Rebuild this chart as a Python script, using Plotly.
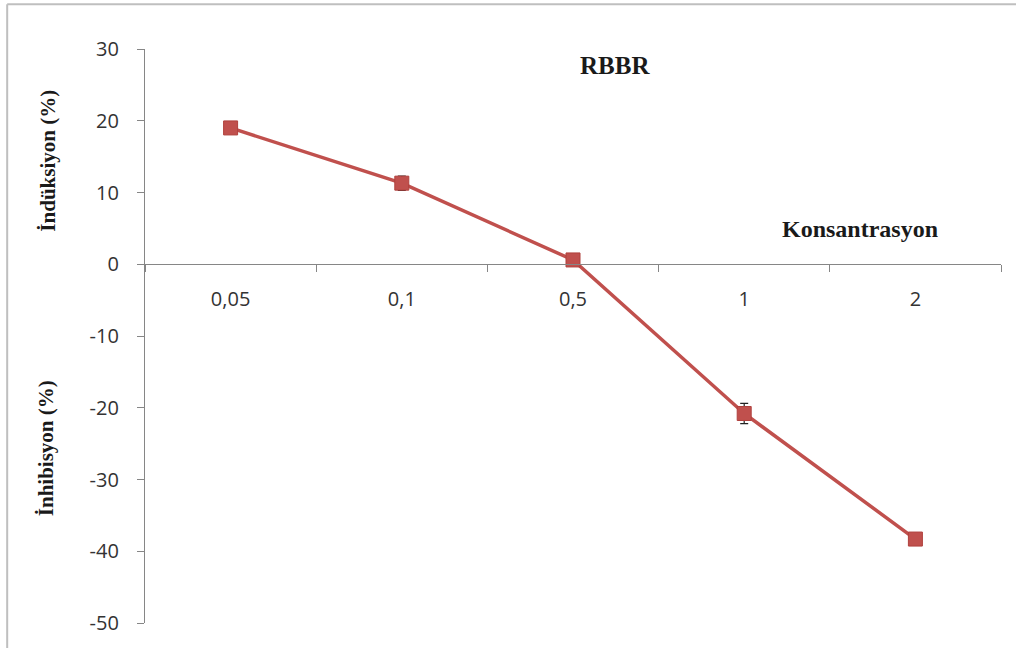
import plotly.graph_objects as go

# Concentration categories and measured response (% induction / inhibition)
concentrations = ["0,05", "0,1", "0,5", "1", "2"]
response = [19.0, 11.3, 0.6, -20.8, -38.3]
response_err = [0.5, 1.0, 0.5, 1.4, 0.5]

y_ticks = [30, 20, 10, 0, -10, -20, -30, -40, -50]
y_tick_labels = ["30", "20", "10", "0", "-10", "-20", "-30", "-40", "-50"]

RED = "#C0504D"
AXIS = "#868686"
TICK_FONT = dict(family="Open Sans, Liberation Sans, sans-serif", size=20, color="#333333")
SERIF_BOLD = "Liberation Serif, Times New Roman, serif"
TEXT_DARK = "#1a1a1a"

fig = go.Figure()
fig.add_trace(go.Scatter(
    x=concentrations,
    y=response,
    mode="lines+markers",
    line=dict(color=RED, width=3.5),
    marker=dict(symbol="square", size=14, color=RED, line=dict(color="#B0403D", width=1)),
    error_y=dict(type="data", array=response_err, visible=True, color="#222222", thickness=1.2, width=4),
    showlegend=False,
))


def label(text, x, y, size, angle=0):
    return dict(text=f"<b>{text}</b>", x=x, y=y, xref="paper", yref="paper",
                xanchor="center", yanchor="middle", textangle=angle, showarrow=False,
                font=dict(family=SERIF_BOLD, size=size, color=TEXT_DARK))


fig.update_layout(
    width=1016,
    height=648,
    margin=dict(l=145, r=15, t=49, b=22),
    paper_bgcolor="white",
    plot_bgcolor="white",
    xaxis=dict(
        type="category",
        range=[-0.5, 4.5],
        anchor="free",
        position=0.625,
        showline=True,
        linecolor=AXIS,
        linewidth=1.3,
        ticks="outside",
        tickson="boundaries",
        ticklen=7,
        tickcolor=AXIS,
        tickfont=TICK_FONT,
        ticklabelstandoff=17,
        showgrid=False,
        zeroline=False,
    ),
    yaxis=dict(
        range=[-50, 30],
        tickvals=y_ticks,
        ticktext=y_tick_labels,
        showline=True,
        linecolor=AXIS,
        linewidth=1.3,
        ticks="outside",
        ticklen=7,
        tickcolor=AXIS,
        tickfont=TICK_FONT,
        ticklabelstandoff=14,
        showgrid=False,
        zeroline=False,
    ),
    annotations=[
        label("RBBR", 0.549, 0.972, 25),
        label("Konsantrasyon", 0.835, 0.686, 24),
        label("İndüksiyon (%)", -0.113, 0.806, 21, -90),
        label("İnhibisyon (%)", -0.116, 0.304, 21, -90),
    ],
    shapes=[
        # chart frame (top and left edges)
        dict(type="line", xref="paper", yref="paper", x0=-0.161, x1=1.1, y0=1.078, y1=1.078,
             line=dict(color="#BFBFBF", width=2)),
        dict(type="line", xref="paper", yref="paper", x0=-0.161, x1=-0.161, y0=1.078, y1=-0.1,
             line=dict(color="#BFBFBF", width=2)),
    ],
)

fig.write_html("out.html")
